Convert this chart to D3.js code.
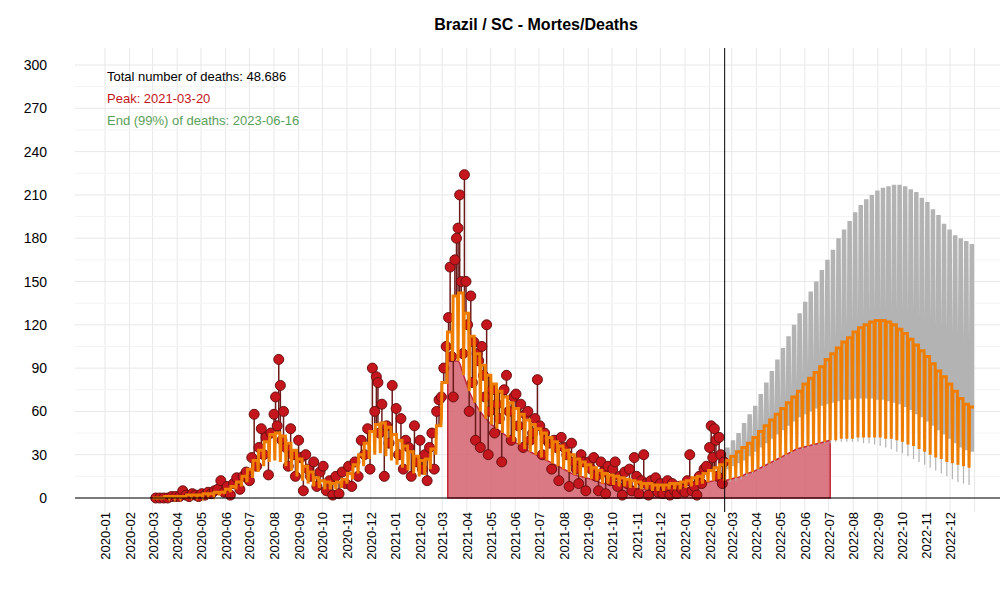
<!DOCTYPE html>
<html><head><meta charset="utf-8">
<script src="https://cdn.jsdelivr.net/npm/d3@7"></script>
<style>body{margin:0;background:#fff;font-family:"Liberation Sans",Arial,sans-serif}</style>
</head><body><svg id="c" width="1000" height="600"></svg>
<script>
// observed daily deaths (sampled)
const obs = [
["2020-03-05",0],["2020-03-10",0],["2020-03-15",0],["2020-03-20",0],["2020-03-25",1],["2020-03-30",1],
["2020-04-04",1],["2020-04-08",5],["2020-04-12",2],["2020-04-16",1],["2020-04-20",3],["2020-04-24",2],["2020-04-28",1],
["2020-05-02",3],["2020-05-06",2],["2020-05-10",4],["2020-05-14",3],["2020-05-18",5],["2020-05-22",6],["2020-05-26",12],["2020-05-30",4],
["2020-06-03",8],["2020-06-07",2],["2020-06-11",10],["2020-06-15",14],["2020-06-19",6],["2020-06-23",15],["2020-06-27",18],
["2020-07-01",12],["2020-07-04",28],["2020-07-07",58],["2020-07-10",22],["2020-07-13",35],["2020-07-16",48],["2020-07-19",30],["2020-07-22",42],["2020-07-25",16],["2020-07-28",45],
["2020-08-01",58],["2020-08-03",70],["2020-08-05",50],["2020-08-07",96],["2020-08-09",78],["2020-08-11",40],["2020-08-13",60],["2020-08-16",35],["2020-08-19",22],["2020-08-22",48],["2020-08-25",30],["2020-08-28",15],
["2020-09-01",40],["2020-09-04",28],["2020-09-07",5],["2020-09-10",30],["2020-09-13",20],["2020-09-16",15],["2020-09-20",25],["2020-09-24",8],["2020-09-28",18],
["2020-10-02",22],["2020-10-06",5],["2020-10-10",12],["2020-10-14",2],["2020-10-18",15],["2020-10-22",3],["2020-10-26",18],["2020-10-30",10],
["2020-11-03",22],["2020-11-07",8],["2020-11-11",25],["2020-11-15",15],["2020-11-19",40],["2020-11-23",30],["2020-11-27",48],["2020-11-30",20],
["2020-12-03",90],["2020-12-06",60],["2020-12-08",84],["2020-12-10",80],["2020-12-12",45],["2020-12-15",65],["2020-12-18",15],["2020-12-21",50],["2020-12-24",38],["2020-12-28",78],
["2021-01-02",62],["2021-01-05",30],["2021-01-08",55],["2021-01-11",20],["2021-01-14",40],["2021-01-18",35],["2021-01-21",15],["2021-01-25",50],["2021-01-28",25],
["2021-02-01",40],["2021-02-04",20],["2021-02-07",30],["2021-02-10",12],["2021-02-13",35],["2021-02-16",45],["2021-02-19",20],["2021-02-22",60],["2021-02-25",68],["2021-02-28",70],
["2021-03-03",90],["2021-03-06",105],["2021-03-09",125],["2021-03-11",160],["2021-03-13",98],["2021-03-15",70],["2021-03-17",165],["2021-03-19",180],["2021-03-21",187],["2021-03-23",210],["2021-03-25",150],["2021-03-27",100],["2021-03-29",224],["2021-03-31",150],
["2021-04-02",120],["2021-04-04",60],["2021-04-06",140],["2021-04-08",80],["2021-04-10",108],["2021-04-12",40],["2021-04-14",100],["2021-04-16",95],["2021-04-18",35],["2021-04-20",105],["2021-04-22",85],["2021-04-24",70],["2021-04-26",120],["2021-04-28",30],["2021-04-30",60],
["2021-05-03",75],["2021-05-06",45],["2021-05-09",65],["2021-05-12",55],["2021-05-15",25],["2021-05-18",75],["2021-05-21",85],["2021-05-24",60],["2021-05-27",40],["2021-05-30",70],
["2021-06-02",72],["2021-06-05",50],["2021-06-08",65],["2021-06-11",35],["2021-06-14",58],["2021-06-17",60],["2021-06-20",40],["2021-06-23",45],["2021-06-26",55],["2021-06-29",82],
["2021-07-02",50],["2021-07-05",30],["2021-07-08",45],["2021-07-11",40],["2021-07-14",38],["2021-07-17",20],["2021-07-20",40],["2021-07-23",35],["2021-07-26",12],["2021-07-29",42],
["2021-08-02",35],["2021-08-05",30],["2021-08-08",8],["2021-08-11",38],["2021-08-14",25],["2021-08-17",20],["2021-08-20",10],["2021-08-23",30],["2021-08-26",25],["2021-08-29",5],
["2021-09-02",25],["2021-09-05",20],["2021-09-08",28],["2021-09-11",15],["2021-09-14",5],["2021-09-17",25],["2021-09-20",18],["2021-09-23",3],["2021-09-26",22],["2021-09-29",12],
["2021-10-02",20],["2021-10-05",25],["2021-10-08",8],["2021-10-11",15],["2021-10-14",2],["2021-10-17",18],["2021-10-20",10],["2021-10-23",20],["2021-10-26",5],["2021-10-29",28],
["2021-11-01",15],["2021-11-04",3],["2021-11-07",12],["2021-11-10",30],["2021-11-13",10],["2021-11-16",2],["2021-11-19",12],["2021-11-22",8],["2021-11-25",14],["2021-11-28",4],
["2021-12-01",10],["2021-12-04",3],["2021-12-07",8],["2021-12-10",12],["2021-12-13",2],["2021-12-16",10],["2021-12-19",5],["2021-12-22",3],["2021-12-25",8],["2021-12-28",6],
["2022-01-01",4],["2022-01-04",12],["2022-01-07",30],["2022-01-10",5],["2022-01-13",8],["2022-01-16",2],["2022-01-19",15],["2022-01-22",10],["2022-01-25",20],["2022-01-28",22],
["2022-02-01",35],["2022-02-03",50],["2022-02-05",28],["2022-02-07",48],["2022-02-09",40],["2022-02-11",15],["2022-02-13",42],["2022-02-15",30],["2022-02-17",10],["2022-02-19",25]
];
// weekly model (weeks starting 2020-03-01)
const modelStart = "2020-03-01";
const modelPeak = [0,0,1,1, 1,1,2,2, 2,3,3,4,4, 6,8,11,15, 20,26,33,39, 44,45,43,38,33, 27,22,18,14, 12,11,10,11, 13,17,23,30,38, 46,51,52,49,
44,40,36,32,29, 26,27,34,50, 80,115,140,142, 128,112,100,92, 85,79,74,70,66, 62,58,54,51, 48,45,42,39, 36,33,30,27,25, 23,21,19,17, 16,15,14,13,12, 11,10,10,9, 9,9,10,10,
11,12,14,15,17, 19,21,23,26, 29,32,35,38, 42,46,50,54, 58,62,66,70,74, 79,83,87,91, 96,100,104,108,111, 115,118,120,122, 123,123,122,120, 117,114,110,106,102, 98,93,88,84, 79,74,69,65,63];
const modelDip = [0,0,0,0, 0,0,1,1, 1,1,2,2,2, 3,4,6,8, 11,14,18,22, 25,26,25,22,19, 15,12,10,8, 7,6,6,6, 7,10,13,17,22, 27,30,31,29,
26,23,21,19,17, 15,16,20,30, 55,80,95,95, 85,74,66,60, 55,51,48,45,42, 39,37,34,32, 30,28,26,24, 22,20,18,16,15, 14,13,12,10, 10,9,8,8,7, 7,6,6,5, 5,5,6,6,
6,7,8,9,10, 11,12,13,12, 13,14,15,17, 18,20,22,24, 26,28,30,32,34, 35,36,37,38, 39,40,40,41,41, 41,42,42,42, 42,42,41,41, 40,39,37,36,34, 32,30,28,27, 25,24,23,22,21];
// forecast interval from week index 103 (2022-02-20)
const ciStartWeek = 103;
const ciHigh = [35, 40,45,52,58, 64,72,80,88, 96,104,112,120,128, 136,143,150,158, 165,172,180,186,192, 198,203,207,210, 213,215,216,217, 217,216,214,212,208, 205,200,196,190, 186,182,180,178,176];
const ciHighDip = [22, 25,28,32,36, 40,45,50,55, 60,65,70,75,80, 85,90,94,98, 102,106,110,114,118, 121,124,126,128, 130,131,131,131, 131,130,129,128,126, 124,122,120,118, 116,114,112,110,108];
const ciLow = [20, 22,24,26,29, 32,35,38,41, 44,47,50,53,56, 58,60,62,64, 65,66,67,68,68, 69,69,69,69, 68,68,67,66, 65,63,61,58,56, 53,50,47,44, 41,38,35,33,32];
const ciLowDip = [10, 11,12,13,15, 17,19,21,23, 25,27,29,31,33, 34,35,36,37, 38,38,39,39,39, 39,39,38,38, 37,36,35,34, 32,31,29,27,25, 23,21,19,17, 15,13,11,10,9];
const yTicks = [0,30,60,90,120,150,180,210,240,270,300];
const todayDate = "2022-02-20", areaStart = "2021-03-08", areaEnd = "2022-07-03";

const svg = d3.select("#c");
const parse = d3.timeParse("%Y-%m-%d");
const x = d3.scaleTime().domain([new Date(2020,0,1), new Date(2022,11,1)]).range([105, 950]);
const y = d3.scaleLinear().domain([0,300]).range([498, 65]);
const day = 864e5;
const wk0 = parse(modelStart);
const wd = (i, off = 0) => new Date(+wk0 + i*7*day + off*day);

// grid
const months = d3.timeMonth.range(new Date(2020,0,1), new Date(2023,0,2));
svg.append("g").selectAll("line").data(months).join("line")
  .attr("x1", d=>x(d)).attr("x2", d=>x(d)).attr("y1", 48).attr("y2", 512)
  .attr("stroke", "#e8e8e8").attr("stroke-width", 1);
svg.append("g").selectAll("line").data(yTicks).join("line")
  .attr("x1", 75).attr("x2", 1000).attr("y1", d=>y(d)).attr("y2", d=>y(d))
  .attr("stroke", "#e8e8e8");
svg.append("g").selectAll("line").data(yTicks.slice(1).map(v=>v-15)).join("line")
  .attr("x1", 75).attr("x2", 1000).attr("y1", d=>y(d)).attr("y2", d=>y(d))
  .attr("stroke", "#f3f3f3");

// model sawtooth points
const modelPts = [];
modelPeak.forEach((p,i) => {
  modelPts.push([wd(i), modelDip[i]]);
  modelPts.push([wd(i, 0.7), p]);
  modelPts.push([wd(i, 6.3), p]);
});
const line = d3.line().x(d=>x(d[0])).y(d=>y(d[1]));

// pink area under the dips
const a0 = parse(areaStart), a1 = parse(areaEnd);
const areaPts = modelDip.map((v,i)=>[wd(i), v]).filter(d=>d[0]>=a0 && d[0]<=a1);
areaPts.unshift([a0, areaPts[0][1]]); areaPts.push([a1, areaPts[areaPts.length-1][1]]);
svg.append("path").datum(areaPts)
  .attr("d", d3.area().x(d=>x(d[0])).y0(y(0)).y1(d=>y(d[1])).curve(d3.curveMonotoneX))
  .attr("fill", "#d4606e").attr("fill-opacity", 0.85).attr("stroke", "#c0283c").attr("stroke-width", 1.5);

// forecast grey interval
const ciPts = [];
ciHigh.forEach((h,j) => {
  const i = ciStartWeek + j;
  ciPts.push({d: wd(i), hi: ciHighDip[j], lo: ciLow[j]});
  ciPts.push({d: wd(i, 0.7), hi: h, lo: ciLow[j]});
  ciPts.push({d: wd(i, 6.3), hi: h, lo: ciLow[j]});
});
svg.append("path").datum(ciPts)
  .attr("d", d3.area().x(d=>x(d.d)).y0(d=>y(d.lo)).y1(d=>y(d.hi)))
  .attr("fill", "#b3b3b3");
svg.append("g").selectAll("line").data(ciLowDip).join("line")
  .attr("x1", (d,j)=>x(wd(ciStartWeek+j))).attr("x2", (d,j)=>x(wd(ciStartWeek+j)))
  .attr("y1", d=>y(d)).attr("y2", (d,j)=>y(ciHighDip[j]))
  .attr("stroke", "#b3b3b3").attr("stroke-width", 1.2);

// stems and points
const obsD = obs.map(([d,v]) => {
  const dt = parse(d);
  const i = Math.max(0, Math.floor((dt - wk0)/(7*day)));
  return {d: dt, v, m: modelPeak[i] || 0};
});
svg.append("g").selectAll("line").data(obsD).join("line")
  .attr("x1", d=>x(d.d)).attr("x2", d=>x(d.d)).attr("y1", d=>y(d.v)).attr("y2", d=>y(d.m))
  .attr("stroke", "#6b1a1a").attr("stroke-width", 1.5);
svg.append("g").selectAll("circle").data(obsD).join("circle")
  .attr("cx", d=>x(d.d)).attr("cy", d=>y(d.v)).attr("r", 5)
  .attr("fill", "#c4161c").attr("stroke", "#6b1010").attr("stroke-width", 1);

svg.append("path").datum(modelPts).attr("d", line)
  .attr("fill", "none").attr("stroke", "#ee7d00").attr("stroke-width", 3);

// zero line and today line
svg.append("line").attr("x1", 75).attr("x2", 1000).attr("y1", y(0)).attr("y2", y(0)).attr("stroke", "#000");
const td = parse(todayDate);
svg.append("line").attr("x1", x(td)).attr("x2", x(td)).attr("y1", 48).attr("y2", 512).attr("stroke", "#000");

// axes labels
svg.append("g").selectAll("text").data(yTicks).join("text")
  .attr("x", 47).attr("y", d=>y(d)+5).attr("text-anchor", "end")
  .attr("font-size", 14).text(d=>d);
const fmt = d3.timeFormat("%Y-%m");
svg.append("g").selectAll("text").data(months.slice(0,36)).join("text")
  .attr("transform", d=>`translate(${x(d)+5},512) rotate(-90)`)
  .attr("text-anchor", "end").attr("font-size", 13).text(d=>fmt(d));

svg.append("text").attr("x", 536).attr("y", 30).attr("text-anchor", "middle")
  .attr("font-weight", "bold").attr("font-size", 16).text("Brazil / SC - Mortes/Deaths");
svg.append("text").attr("x", 107).attr("y", 81).attr("font-size", 13).text("Total number of deaths: 48.686");
svg.append("text").attr("x", 107).attr("y", 103).attr("font-size", 13).attr("fill", "#c4161c").text("Peak: 2021-03-20");
svg.append("text").attr("x", 107).attr("y", 125).attr("font-size", 13).attr("fill", "#5aa05a").text("End (99%) of deaths: 2023-06-16");
</script></body></html>
